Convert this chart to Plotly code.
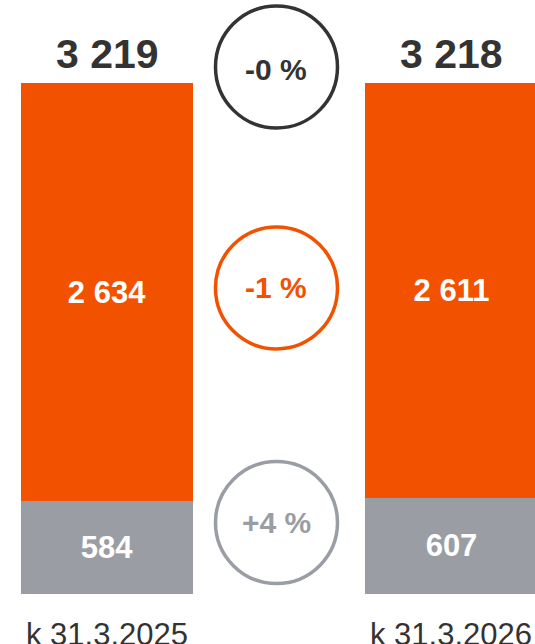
import plotly.graph_objects as go

categories = ["k 31.3.2025", "k 31.3.2026"]
gray_values = [584, 607]
orange_values = [2634, 2611]
totals = [3219, 3218]
change_labels = ["-0 %", "-1 %", "+4 %"]
change_levels = [3320, 1928, 450]

ORANGE = "#F25100"
GRAY = "#9A9EA4"
DARK = "#333333"
FONT = "Liberation Sans"

def fmt(v):
    return f"{v:,}".replace(",", " ")

xpos = [0, 1]

fig = go.Figure()
fig.add_trace(go.Bar(
    x=xpos, y=gray_values, marker=dict(color=GRAY, line=dict(width=0)),
    text=[fmt(v) for v in gray_values], textposition="inside",
    insidetextanchor="middle", textangle=0, constraintext="none",
    insidetextfont=dict(family=FONT, size=31, color="white", weight="bold"),
    width=0.5, hoverinfo="skip"))
fig.add_trace(go.Bar(
    x=xpos, y=orange_values, marker=dict(color=ORANGE, line=dict(width=0)),
    text=[fmt(v) for v in orange_values], textposition="inside",
    insidetextanchor="middle", textangle=0, constraintext="none",
    insidetextfont=dict(family=FONT, size=31, color="white", weight="bold"),
    width=0.5, hoverinfo="skip"))

annotations = []
for x, t in zip(xpos, totals):
    annotations.append(dict(x=x, y=t, xref="x", yref="y", text=fmt(t),
                            showarrow=False, yanchor="bottom", yshift=4,
                            font=dict(family=FONT, size=41, color=DARK, weight="bold")))
for x, c in zip(xpos, categories):
    annotations.append(dict(x=x, y=0, xref="x", yref="y", text=c,
                            showarrow=False, yanchor="middle", yshift=-40,
                            font=dict(family=FONT, size=31, color=DARK)))

circle_colors = [DARK, ORANGE, GRAY]
text_shifts = [-3, 0, 0]
shapes = []
cx = 0.492
for lab, lvl, col, ys in zip(change_labels, change_levels, circle_colors, text_shifts):
    shapes.append(dict(type="circle", xref="x", yref="y",
                       xsizemode="pixel", ysizemode="pixel",
                       xanchor=cx, yanchor=lvl, x0=-61, x1=61, y0=-61, y1=61,
                       line=dict(color=col, width=3.5)))
    annotations.append(dict(x=cx, y=lvl, xref="x", yref="y", text=lab,
                            showarrow=False, yanchor="middle", xanchor="center",
                            yshift=ys,
                            font=dict(family=FONT, size=30, color=col, weight="bold")))

fig.update_layout(
    barmode="stack", width=535, height=644,
    margin=dict(l=0, r=0, t=0, b=50),
    paper_bgcolor="white", plot_bgcolor="white",
    showlegend=False,
    xaxis=dict(range=[-0.3106, 1.2424], visible=False, fixedrange=True),
    yaxis=dict(range=[0, 3742], visible=False, fixedrange=True),
    shapes=shapes, annotations=annotations,
)

fig.write_html(
    "out.html",
    config={"displayModeBar": False, "staticPlot": True},
    post_script="document.body.style.margin='0';document.body.style.overflow='hidden';",
)
